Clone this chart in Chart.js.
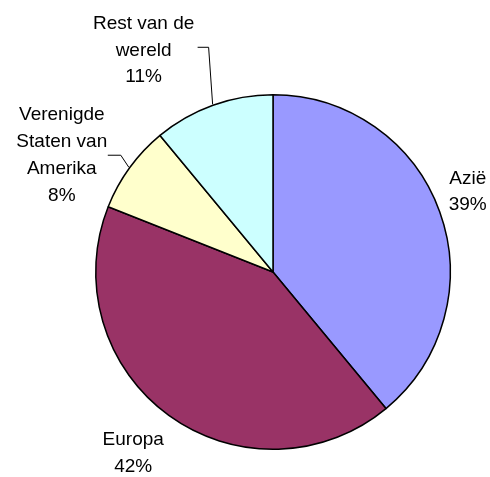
<!DOCTYPE html>
<html>
<head>
<meta charset="utf-8">
<script src="https://cdn.jsdelivr.net/npm/chart.js@4"></script>
<style>
  html, body { margin:0; padding:0; background:#fff; }
  #wrap { width:490px; height:477px; position:relative; }
</style>
</head>
<body>
<div id="wrap"><canvas id="pieChart"></canvas></div>
<script>
// ===============================
// Data
// ===============================
const categories = ["Azië", "Europa", "Verenigde\nStaten van\nAmerika", "Rest van de\nwereld"];
const shares = [39, 42, 8, 11];
const sliceColors = ["#9999FF", "#993366", "#FFFFCC", "#CCFFFF"];

// label placement relative to the slice edge (px), leader points optional
const labelOffsets = [
    {dx: 27, dy: -20},
    {dx: -35, dy: 37},
    {dx: -67, dy: -12, leader: [[-8, -12], [-21, -12]]},
    {dx: -69, dy: -54, leader: [[-4, -57], [-15, -57]]}
];

// ===============================
// Outside labels + leader lines
// ===============================
const outsideLabels = {
    id: "outsideLabels",
    afterDatasetsDraw(chart){
        const ctx = chart.ctx;
        const meta = chart.getDatasetMeta(0);
        const total = shares.reduce((a,b)=>a+b,0);
        ctx.save();
        ctx.font = "19px 'Liberation Sans', Arial, sans-serif";
        ctx.fillStyle = "#000";
        ctx.textAlign = "center";
        ctx.textBaseline = "middle";
        meta.data.forEach((arc, i)=>{
            const mid = (arc.startAngle + arc.endAngle) / 2;
            const r = arc.outerRadius + 1;
            const ex = arc.x + Math.cos(mid) * r;
            const ey = arc.y + Math.sin(mid) * r;
            const off = labelOffsets[i];
            if (off.leader){
                ctx.strokeStyle = "#000";
                ctx.lineWidth = 1;
                ctx.beginPath();
                ctx.moveTo(ex, ey);
                off.leader.forEach(p => ctx.lineTo(ex + p[0], ey + p[1]));
                ctx.stroke();
            }
            const lines = categories[i].split("\n");
            lines.push(Math.round(shares[i] / total * 100) + "%");
            const lh = 26.7;
            const y0 = ey + off.dy - (lines.length - 1) * lh / 2;
            lines.forEach((t, k)=>{
                ctx.fillText(t, ex + off.dx, y0 + k * lh);
            });
        });
        ctx.restore();
    }
};

// ===============================
// Pie Chart
// ===============================
const ctxPie = document.getElementById("pieChart").getContext("2d");
const pieChart = new Chart(ctxPie, {
    type: "pie",
    data: {
        labels: categories,
        datasets: [{
            data: shares,
            backgroundColor: sliceColors,
            borderColor: "#000",
            borderWidth: 1.5
        }]
    },
    options: {
        responsive: true,
        maintainAspectRatio: false,
        animation: false,
        layout: { padding: { left: 95, top: 94, right: 39, bottom: 27 } },
        plugins: {
            legend: { display: false },
            tooltip: { enabled: false }
        }
    },
    plugins: [outsideLabels]
});
</script>
</body>
</html>
